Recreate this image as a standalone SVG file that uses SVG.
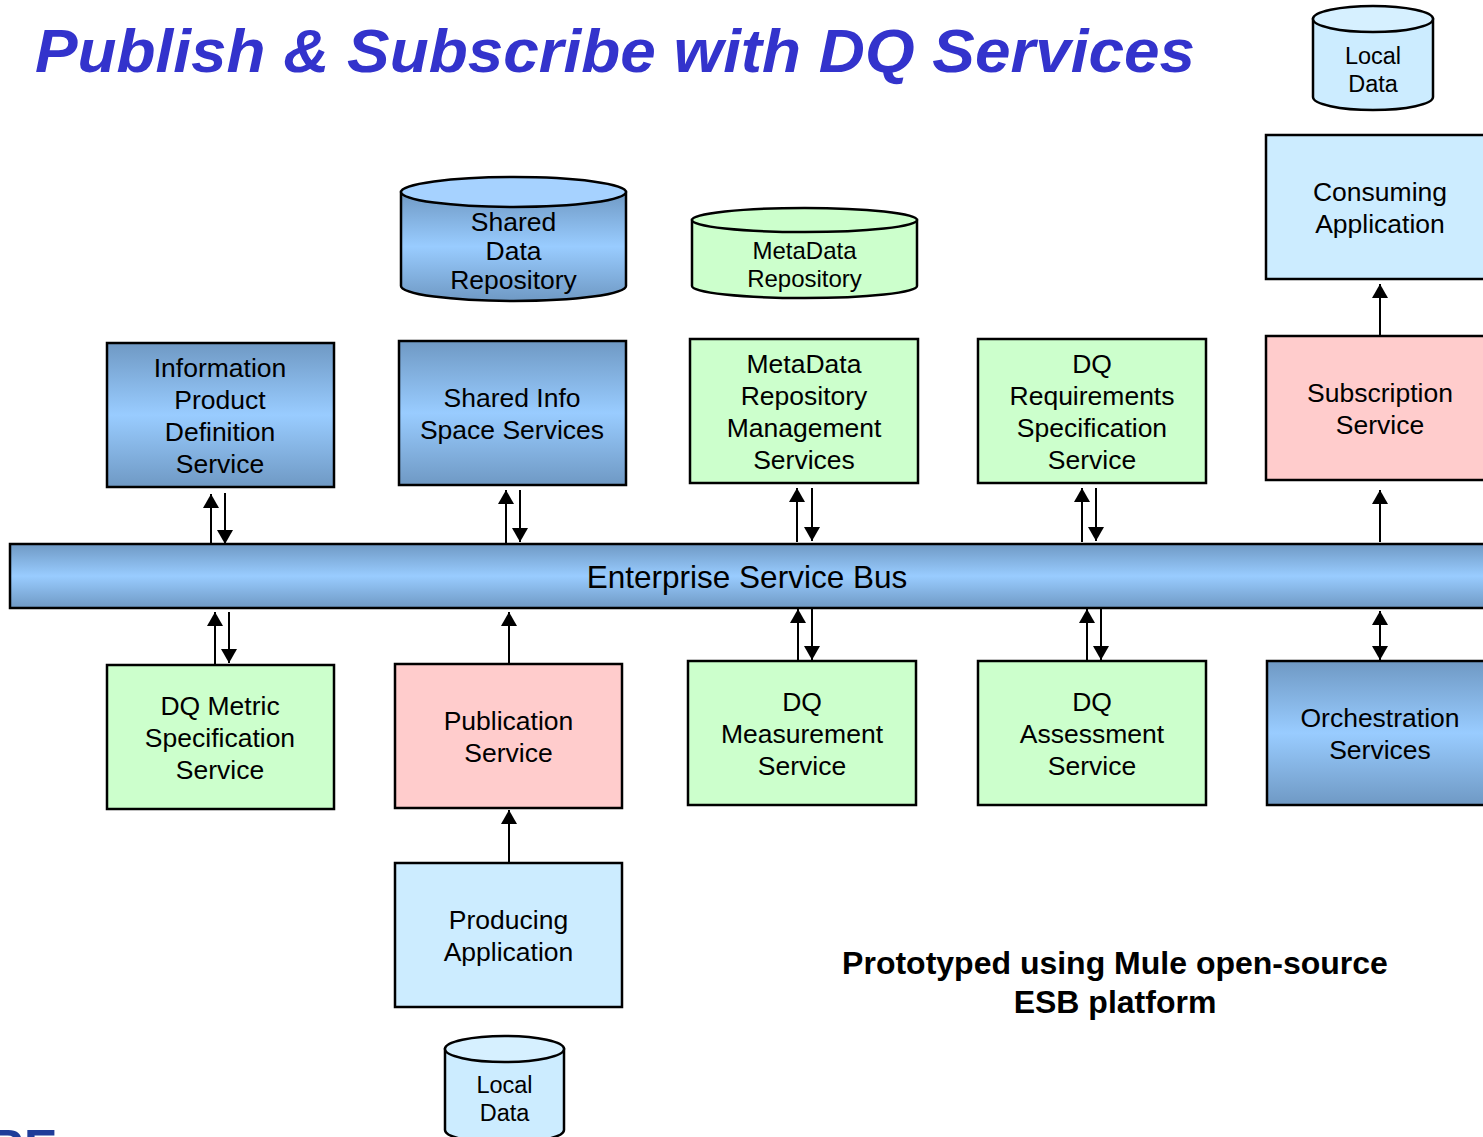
<svg xmlns="http://www.w3.org/2000/svg" width="1483" height="1137" viewBox="0 0 1483 1137">
<defs>
<linearGradient id="blueG" x1="0" y1="0" x2="0" y2="1">
<stop offset="0" stop-color="#6F99C4"/>
<stop offset="0.5" stop-color="#99CCFF"/>
<stop offset="1" stop-color="#6F99C4"/>
</linearGradient>
<marker id="ah" viewBox="0 0 14 16" refX="14" refY="8" markerWidth="14" markerHeight="16" markerUnits="userSpaceOnUse" orient="auto">
<path d="M0,0 L14,8 L0,16 Z" fill="#000"/>
</marker>
<marker id="ahs" viewBox="0 0 14 16" refX="0" refY="8" markerWidth="14" markerHeight="16" markerUnits="userSpaceOnUse" orient="auto">
<path d="M14,0 L0,8 L14,16 Z" fill="#000"/>
</marker>
</defs>
<style>
.box{stroke:#000;stroke-width:2.5}
.blue{fill:url(#blueG)}
.green{fill:#CCFFCC}
.pink{fill:#FFCCCC}
.lb{fill:#CCECFF}
.t{font-family:"Liberation Sans",Arial,sans-serif;font-size:26.5px;fill:#000;text-anchor:middle}
.ts{font-family:"Liberation Sans",Arial,sans-serif;font-size:23.5px;fill:#000;text-anchor:middle}
.c{stroke:#000;stroke-width:2;fill:none;marker-end:url(#ah)}
.cb{stroke:#000;stroke-width:2;fill:none;marker-end:url(#ah);marker-start:url(#ahs)}
</style>
<rect width="1483" height="1137" fill="#fff"/>
<text x="35" y="72" font-family="Liberation Sans,Arial,sans-serif" font-size="62" font-weight="bold" font-style="italic" fill="#3333CC" textLength="1160" lengthAdjust="spacingAndGlyphs">Publish &amp; Subscribe with DQ Services</text>

<g id="bus">
<rect class="box blue" x="10" y="544" width="1480" height="64"/>
<text class="t" x="747" y="588" style="font-size:31.5px">Enterprise Service Bus</text>
</g>

<g id="local-data-top">
<path class="box" d="M1313,19 L1313,97 A60,13 0 0 0 1433,97 L1433,19 Z" fill="#CCECFF"/>
<ellipse class="box" cx="1373" cy="19" rx="60" ry="13" fill="#D6F0FF"/>
<text class="ts" x="1373" y="64">Local</text>
<text class="ts" x="1373" y="92">Data</text>
</g>

<g id="shared-data-repo">
<path class="box blue" d="M401,192 L401,286 A112.5,15 0 0 0 626,286 L626,192 Z"/>
<ellipse class="box" cx="513.5" cy="192" rx="112.5" ry="15" fill="#A6D2FF"/>
<text class="t" x="513.5" y="231">Shared</text>
<text class="t" x="513.5" y="260">Data</text>
<text class="t" x="513.5" y="289">Repository</text>
</g>

<g id="metadata-repo">
<path class="box green" d="M692,220 L692,286 A112.5,12 0 0 0 917,286 L917,220 Z"/>
<ellipse class="box" cx="804.5" cy="220" rx="112.5" ry="12" fill="#CCFFCC"/>
<text class="ts" x="804.5" y="259" style="font-size:24px">MetaData</text>
<text class="ts" x="804.5" y="287" style="font-size:24px">Repository</text>
</g>

<g id="consuming-app">
<rect class="box lb" x="1266" y="135" width="230" height="144"/>
<text class="t" x="1380" y="201">Consuming</text>
<text class="t" x="1380" y="233">Application</text>
</g>

<g id="info-product">
<rect class="box blue" x="107" y="343" width="227" height="144"/>
<text class="t" x="220" y="377">Information</text>
<text class="t" x="220" y="409">Product</text>
<text class="t" x="220" y="441">Definition</text>
<text class="t" x="220" y="473">Service</text>
</g>

<g id="shared-info">
<rect class="box blue" x="399" y="341" width="227" height="144"/>
<text class="t" x="512" y="407">Shared Info</text>
<text class="t" x="512" y="439">Space Services</text>
</g>

<g id="metadata-mgmt">
<rect class="box green" x="690" y="339" width="228" height="144"/>
<text class="t" x="804" y="373">MetaData</text>
<text class="t" x="804" y="405">Repository</text>
<text class="t" x="804" y="437">Management</text>
<text class="t" x="804" y="469">Services</text>
</g>

<g id="dq-req">
<rect class="box green" x="978" y="339" width="228" height="144"/>
<text class="t" x="1092" y="373">DQ</text>
<text class="t" x="1092" y="405">Requirements</text>
<text class="t" x="1092" y="437">Specification</text>
<text class="t" x="1092" y="469">Service</text>
</g>

<g id="subscription">
<rect class="box pink" x="1266" y="336" width="230" height="144"/>
<text class="t" x="1380" y="402">Subscription</text>
<text class="t" x="1380" y="434">Service</text>
</g>

<g id="dq-metric">
<rect class="box green" x="107" y="665" width="227" height="144"/>
<text class="t" x="220" y="715">DQ Metric</text>
<text class="t" x="220" y="747">Specification</text>
<text class="t" x="220" y="779">Service</text>
</g>

<g id="publication">
<rect class="box pink" x="395" y="664" width="227" height="144"/>
<text class="t" x="508.5" y="730">Publication</text>
<text class="t" x="508.5" y="762">Service</text>
</g>

<g id="dq-measurement">
<rect class="box green" x="688" y="661" width="228" height="144"/>
<text class="t" x="802" y="711">DQ</text>
<text class="t" x="802" y="743">Measurement</text>
<text class="t" x="802" y="775">Service</text>
</g>

<g id="dq-assessment">
<rect class="box green" x="978" y="661" width="228" height="144"/>
<text class="t" x="1092" y="711">DQ</text>
<text class="t" x="1092" y="743">Assessment</text>
<text class="t" x="1092" y="775">Service</text>
</g>

<g id="orchestration">
<rect class="box blue" x="1267" y="661" width="230" height="144"/>
<text class="t" x="1380" y="727">Orchestration</text>
<text class="t" x="1380" y="759">Services</text>
</g>

<g id="producing-app">
<rect class="box lb" x="395" y="863" width="227" height="144"/>
<text class="t" x="508.5" y="929">Producing</text>
<text class="t" x="508.5" y="961">Application</text>
</g>

<g id="local-data-bottom">
<path class="box" d="M445,1049 L445,1130 A59.5,13 0 0 0 564,1130 L564,1049 Z" fill="#CCECFF"/>
<ellipse class="box" cx="504.5" cy="1049" rx="59.5" ry="13" fill="#D6F0FF"/>
<text class="ts" x="504.5" y="1093">Local</text>
<text class="ts" x="504.5" y="1121">Data</text>
</g>

<g id="note">
<text x="1115" y="974" font-family="Liberation Sans,Arial,sans-serif" font-size="32" font-weight="bold" text-anchor="middle">Prototyped using Mule open-source</text>
<text x="1115" y="1013" font-family="Liberation Sans,Arial,sans-serif" font-size="32" font-weight="bold" text-anchor="middle">ESB platform</text>
</g>

<g id="logo">
<text x="-12" y="1165" font-family="Liberation Sans,Arial,sans-serif" font-size="50" font-weight="bold" fill="#1F3C99">RE</text>
</g>

<g id="connectors">
<path class="c" d="M211,544 L211,494"/>
<path class="c" d="M225,493 L225,544"/>
<path class="c" d="M506,543 L506,490"/>
<path class="c" d="M520,490 L520,542"/>
<path class="c" d="M797,542 L797,488"/>
<path class="c" d="M812,488 L812,541"/>
<path class="c" d="M1082,542 L1082,488"/>
<path class="c" d="M1096,488 L1096,541"/>
<path class="c" d="M1380,542 L1380,490"/>
<path class="c" d="M1380,335 L1380,284"/>
<path class="c" d="M215,665 L215,612"/>
<path class="c" d="M229,612 L229,663"/>
<path class="c" d="M509,664 L509,612"/>
<path class="c" d="M798,661 L798,609"/>
<path class="c" d="M812,609 L812,660"/>
<path class="c" d="M1087,661 L1087,609"/>
<path class="c" d="M1101,609 L1101,660"/>
<path class="cb" d="M1380,611 L1380,660"/>
<path class="c" d="M509,863 L509,810"/>
</g>
</svg>
